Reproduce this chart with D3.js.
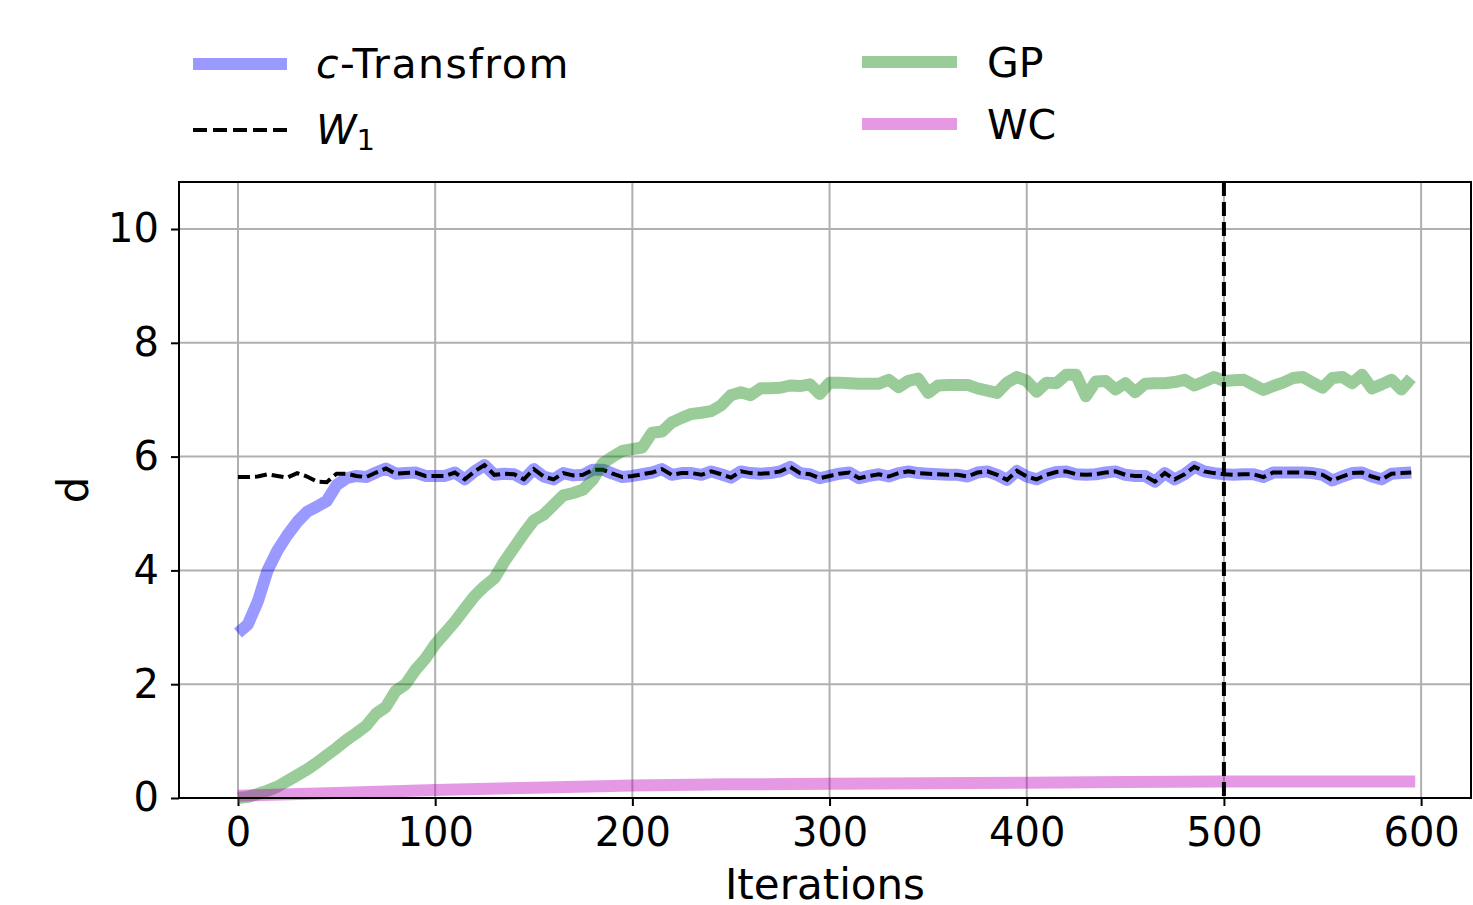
<!DOCTYPE html>
<html>
<head>
<meta charset="utf-8">
<script src="https://cdn.jsdelivr.net/npm/d3@7"></script>
<style>
  body { margin: 0; background: #fff; }
  text { font-family: "DejaVu Sans", sans-serif; fill: #000; }
</style>
</head>
<body>
<svg id="chart" width="1473" height="905"></svg>
<script>
// iterations, one value every 5 steps
var iters = d3.range(0, 600, 5);

var cTransform = [2.9, 3.05, 3.45, 4.0, 4.35, 4.62, 4.85, 5.03, 5.12, 5.22, 5.5, 5.62,
  5.66, 5.64, 5.72, 5.79, 5.70, 5.71, 5.72, 5.66, 5.66, 5.66, 5.72, 5.60, 5.74, 5.85, 5.68, 5.70, 5.69, 5.60,
  5.78, 5.65, 5.60, 5.71, 5.67, 5.68, 5.77, 5.77, 5.70, 5.64,
  5.66, 5.69, 5.72, 5.78, 5.68, 5.71, 5.71, 5.68, 5.74, 5.69, 5.63, 5.74, 5.71, 5.70, 5.71, 5.74, 5.82, 5.71, 5.69, 5.62,
  5.66, 5.70, 5.72, 5.62, 5.66, 5.69, 5.65, 5.71, 5.74, 5.71, 5.70, 5.69, 5.68, 5.68, 5.65, 5.72, 5.74, 5.68, 5.59, 5.75,
  5.65, 5.60, 5.68, 5.73, 5.74, 5.69, 5.68, 5.69, 5.72, 5.74, 5.68, 5.66, 5.66, 5.56, 5.71, 5.60, 5.69, 5.82, 5.74, 5.71,
  5.69, 5.68, 5.69, 5.69, 5.64, 5.72, 5.72, 5.72, 5.72, 5.71, 5.68, 5.58, 5.65, 5.71, 5.72, 5.65, 5.60, 5.70, 5.71, 5.72];

var w1 = [5.64, 5.64, 5.65, 5.69, 5.66, 5.63, 5.71, 5.65, 5.56, 5.55, 5.70, 5.70,
  5.66, 5.64, 5.72, 5.79, 5.70, 5.71, 5.72, 5.66, 5.66, 5.66, 5.72, 5.60, 5.74, 5.85, 5.68, 5.70, 5.69, 5.60,
  5.78, 5.65, 5.60, 5.71, 5.67, 5.68, 5.77, 5.77, 5.70, 5.64,
  5.66, 5.69, 5.72, 5.78, 5.68, 5.71, 5.71, 5.68, 5.74, 5.69, 5.63, 5.74, 5.71, 5.70, 5.71, 5.74, 5.82, 5.71, 5.69, 5.62,
  5.66, 5.70, 5.72, 5.62, 5.66, 5.69, 5.65, 5.71, 5.74, 5.71, 5.70, 5.69, 5.68, 5.68, 5.65, 5.72, 5.74, 5.68, 5.59, 5.75,
  5.65, 5.60, 5.68, 5.73, 5.74, 5.69, 5.68, 5.69, 5.72, 5.74, 5.68, 5.66, 5.66, 5.56, 5.71, 5.60, 5.69, 5.82, 5.74, 5.71,
  5.69, 5.68, 5.69, 5.69, 5.64, 5.72, 5.72, 5.72, 5.72, 5.71, 5.68, 5.58, 5.65, 5.71, 5.72, 5.65, 5.60, 5.70, 5.71, 5.72];

var gp = [0.0, 0.02, 0.07, 0.13, 0.2, 0.3, 0.4, 0.5, 0.62, 0.75, 0.88, 1.02, 1.14, 1.27, 1.48, 1.6, 1.88, 2.0, 2.25, 2.45,
  2.7, 2.9, 3.1, 3.33, 3.55, 3.72, 3.86, 4.15, 4.4, 4.65, 4.88, 4.98, 5.15, 5.32, 5.36, 5.42, 5.6, 5.88, 6.0, 6.1,
  6.13, 6.16, 6.42, 6.44, 6.6, 6.68, 6.75, 6.77, 6.8, 6.9, 7.08, 7.13, 7.08, 7.2, 7.2, 7.21, 7.25, 7.24, 7.27, 7.1,
  7.3, 7.3, 7.29, 7.28, 7.28, 7.28, 7.35, 7.22, 7.33, 7.37, 7.12, 7.25, 7.26, 7.26, 7.26, 7.2, 7.16, 7.12, 7.3, 7.4,
  7.33, 7.14, 7.3, 7.29, 7.44, 7.44, 7.06, 7.32, 7.33, 7.18, 7.29, 7.13, 7.28, 7.29, 7.29, 7.31, 7.35, 7.25, 7.32, 7.4,
  7.33, 7.34, 7.35, 7.26, 7.17, 7.24, 7.3, 7.38, 7.4, 7.3, 7.21, 7.38, 7.4, 7.29, 7.44, 7.2, 7.27, 7.35, 7.18, 7.38];

var wcIters = [0, 50, 100, 150, 200, 250, 300, 350, 400, 450, 500, 550, 597];
var wc = [0.04, 0.09, 0.14, 0.18, 0.22, 0.24, 0.25, 0.26, 0.27, 0.28, 0.29, 0.29, 0.29];

var xTicks = [0, 100, 200, 300, 400, 500, 600];
var yTicks = [0, 2, 4, 6, 8, 10];
var vlineAt = 500;

var svg = d3.select('#chart');
var pLeft = 179, pRight = 1471, pTop = 182, pBottom = 798;

var x = d3.scaleLinear().domain([-29.92, 625.3]).range([pLeft, pRight]);
var y = d3.scaleLinear().domain([0, 10.826]).range([pBottom, pTop]);

// grid
svg.append('g').selectAll('line').data(xTicks).enter().append('line')
  .attr('x1', function(d) { return x(d); }).attr('x2', function(d) { return x(d); })
  .attr('y1', pTop).attr('y2', pBottom)
  .attr('stroke', '#b0b0b0').attr('stroke-width', 2);
svg.append('g').selectAll('line').data(yTicks).enter().append('line')
  .attr('y1', function(d) { return y(d); }).attr('y2', function(d) { return y(d); })
  .attr('x1', pLeft).attr('x2', pRight)
  .attr('stroke', '#b0b0b0').attr('stroke-width', 2);

// axes
var xAxis = svg.append('g').attr('transform', 'translate(0,' + pBottom + ')')
  .call(d3.axisBottom(x).tickValues(xTicks).tickSize(8).tickPadding(12));
var yAxis = svg.append('g').attr('transform', 'translate(' + pLeft + ',0)')
  .call(d3.axisLeft(y).tickValues(yTicks).tickSize(8).tickPadding(12));
[xAxis, yAxis].forEach(function(a) {
  a.select('.domain').remove();
  a.selectAll('line').attr('stroke', '#000').attr('stroke-width', 2);
  a.selectAll('text').style('font-size', '40px').style('font-family', '"DejaVu Sans", sans-serif');
});

var line = d3.line()
  .x(function(d) { return x(d[0]); })
  .y(function(d) { return y(d[1]); });

var g = svg.append('g');
g.append('path').datum(d3.zip(iters, cTransform)).attr('d', line)
  .attr('fill', 'none').attr('stroke', '#0000ff').attr('stroke-opacity', 0.4)
  .attr('stroke-width', 12).attr('stroke-linejoin', 'round');
g.append('path').datum(d3.zip(iters, w1)).attr('d', line)
  .attr('fill', 'none').attr('stroke', '#000').attr('stroke-width', 4)
  .attr('stroke-dasharray', '12,5');
g.append('path').datum(d3.zip(iters, gp)).attr('d', line)
  .attr('fill', 'none').attr('stroke', '#008000').attr('stroke-opacity', 0.4)
  .attr('stroke-width', 12).attr('stroke-linejoin', 'round');
g.append('path').datum(d3.zip(wcIters, wc)).attr('d', line)
  .attr('fill', 'none').attr('stroke', '#bf00bf').attr('stroke-opacity', 0.4)
  .attr('stroke-width', 12);
g.append('line')
  .attr('x1', x(vlineAt)).attr('x2', x(vlineAt)).attr('y1', pTop).attr('y2', pBottom)
  .attr('stroke', '#000').attr('stroke-width', 4).attr('stroke-dasharray', '14,6');

// frame
svg.append('rect').attr('x', pLeft).attr('y', pTop)
  .attr('width', pRight - pLeft).attr('height', pBottom - pTop)
  .attr('fill', 'none').attr('stroke', '#000').attr('stroke-width', 2);

// axis labels
svg.append('text').attr('x', (pLeft + pRight) / 2).attr('y', 899)
  .attr('text-anchor', 'middle').style('font-size', '42px').text('Iterations');
svg.append('text').attr('transform', 'translate(88,' + ((pTop + pBottom) / 2) + ') rotate(-90)')
  .attr('text-anchor', 'middle').style('font-size', '42px').text('d');

// legend
var leg = svg.append('g');
leg.append('line').attr('x1', 193).attr('x2', 287).attr('y1', 64).attr('y2', 64)
  .attr('stroke', '#0000ff').attr('stroke-opacity', 0.4).attr('stroke-width', 12);
var t1 = leg.append('text').attr('x', 316).attr('y', 78).style('font-size', '41px')
  .style('letter-spacing', '1.5px');
t1.append('tspan').style('font-style', 'italic').text('c');
t1.append('tspan').text('-Transfrom');

leg.append('line').attr('x1', 193).attr('x2', 287).attr('y1', 130).attr('y2', 130)
  .attr('stroke', '#000').attr('stroke-width', 4).attr('stroke-dasharray', '14,6');
var t2 = leg.append('text').attr('x', 316).attr('y', 144).style('font-size', '41px');
t2.append('tspan').style('font-style', 'italic').text('W');
t2.append('tspan').attr('dy', 6).style('font-size', '29px').text('1');

leg.append('line').attr('x1', 862).attr('x2', 957).attr('y1', 62).attr('y2', 62)
  .attr('stroke', '#008000').attr('stroke-opacity', 0.4).attr('stroke-width', 12);
leg.append('text').attr('x', 987).attr('y', 77).style('font-size', '41px').text('GP');

leg.append('line').attr('x1', 862).attr('x2', 957).attr('y1', 124).attr('y2', 124)
  .attr('stroke', '#bf00bf').attr('stroke-opacity', 0.4).attr('stroke-width', 12);
leg.append('text').attr('x', 987).attr('y', 139).style('font-size', '41px').text('WC');
</script>
</body>
</html>
